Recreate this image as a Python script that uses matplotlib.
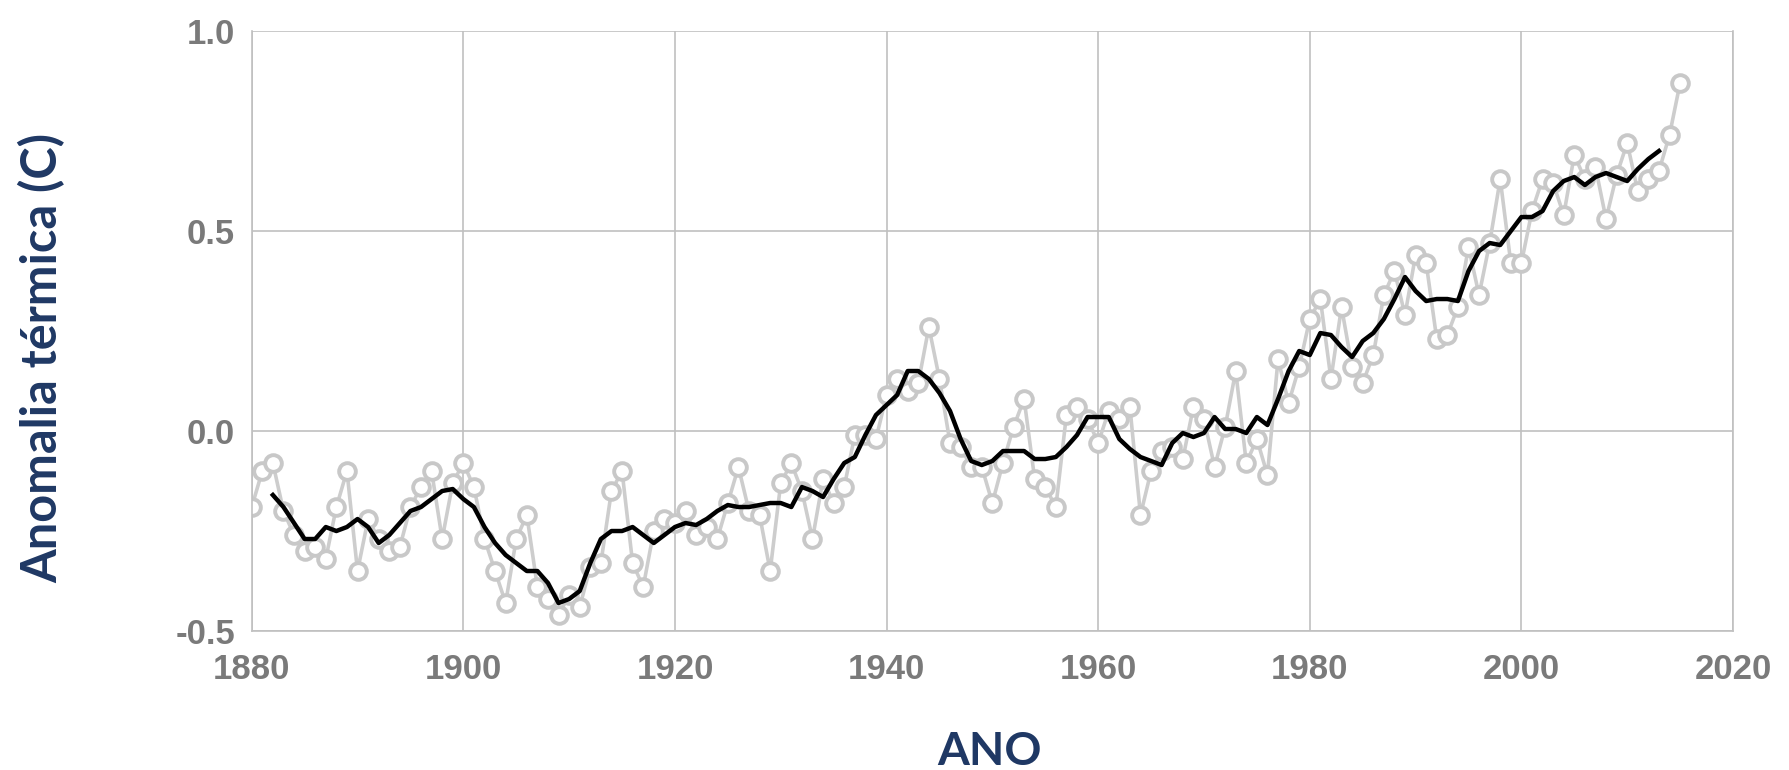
import numpy as np
import matplotlib
matplotlib.use("Agg")
import matplotlib.pyplot as plt

# annual anomalies 1880-2015
years = np.arange(1880, 2016)
annual = [
    -0.19, -0.10, -0.08, -0.20, -0.26, -0.30, -0.29, -0.32, -0.19, -0.10,
    -0.35, -0.22, -0.27, -0.30, -0.29, -0.19, -0.14, -0.10, -0.27, -0.13,
    -0.08, -0.14, -0.27, -0.35, -0.43, -0.27, -0.21, -0.39, -0.42, -0.46,
    -0.41, -0.44, -0.34, -0.33, -0.15, -0.10, -0.33, -0.39, -0.25, -0.22,
    -0.23, -0.20, -0.26, -0.24, -0.27, -0.18, -0.09, -0.20, -0.21, -0.35,
    -0.13, -0.08, -0.15, -0.27, -0.12, -0.18, -0.14, -0.01, -0.01, -0.02,
    0.09, 0.13, 0.10, 0.12, 0.26, 0.13, -0.03, -0.04, -0.09, -0.09,
    -0.18, -0.08, 0.01, 0.08, -0.12, -0.14, -0.19, 0.04, 0.06, 0.03,
    -0.03, 0.05, 0.03, 0.06, -0.21, -0.10, -0.05, -0.04, -0.07, 0.06,
    0.03, -0.09, 0.01, 0.15, -0.08, -0.02, -0.11, 0.18, 0.07, 0.16,
    0.28, 0.33, 0.13, 0.31, 0.16, 0.12, 0.19, 0.34, 0.40, 0.29,
    0.44, 0.42, 0.23, 0.24, 0.31, 0.46, 0.34, 0.47, 0.63, 0.42,
    0.42, 0.55, 0.63, 0.62, 0.54, 0.69, 0.63, 0.66, 0.53, 0.64,
    0.72, 0.60, 0.63, 0.65, 0.74, 0.87,
]

# 5-year running mean 1882-2013
mean_years = np.arange(1882, 2014)
running_mean = [
    -0.16, -0.19, -0.23, -0.27, -0.27, -0.24, -0.25, -0.24, -0.22, -0.24,
    -0.28, -0.26, -0.23, -0.20, -0.19, -0.17, -0.15, -0.145, -0.17, -0.19,
    -0.24, -0.28, -0.31, -0.33, -0.35, -0.35, -0.38, -0.43, -0.42, -0.40,
    -0.33, -0.27, -0.25, -0.25, -0.24, -0.26, -0.28, -0.26, -0.24, -0.23,
    -0.235, -0.22, -0.20, -0.185, -0.19, -0.19, -0.185, -0.18, -0.18, -0.19,
    -0.14, -0.15, -0.165, -0.12, -0.08, -0.065, -0.01, 0.04, 0.065, 0.09,
    0.15, 0.15, 0.13, 0.095, 0.05, -0.02, -0.075, -0.085, -0.075, -0.05,
    -0.05, -0.05, -0.07, -0.07, -0.065, -0.04, -0.01, 0.035, 0.035, 0.035,
    -0.02, -0.045, -0.065, -0.075, -0.085, -0.03, -0.005, -0.015, -0.005, 0.035,
    0.005, 0.005, -0.005, 0.035, 0.015, 0.08, 0.15, 0.20, 0.19, 0.245,
    0.24, 0.21, 0.185, 0.225, 0.245, 0.28, 0.33, 0.385, 0.35, 0.325,
    0.33, 0.33, 0.325, 0.40, 0.45, 0.47, 0.465, 0.50, 0.535, 0.535,
    0.55, 0.60, 0.625, 0.635, 0.615, 0.635, 0.645, 0.635, 0.625, 0.655,
    0.68, 0.70,
]

x_ticks = [1880, 1900, 1920, 1940, 1960, 1980, 2000, 2020]
y_ticks = [-0.5, 0.0, 0.5, 1.0]

fig = plt.figure(figsize=(17.89, 7.70), dpi=100)
ax = fig.add_axes([0.1407, 0.1805, 0.8280, 0.7792])

ax.plot(years, annual, color="#cdcdcd", lw=2.6, marker="o", ms=12,
        mfc="white", mec="#c8c8c8", mew=2.8, zorder=2)
ax.plot(mean_years, running_mean, color="black", lw=3.2, zorder=3)

ax.set_xlim(1880, 2020)
ax.set_ylim(-0.5, 1.0)
ax.set_xticks(x_ticks)
ax.set_yticks(y_ticks)
ax.set_yticklabels([f"{v:.1f}" for v in y_ticks])
ax.grid(True, color="#c0c0c0", lw=1.2, zorder=0)
for s in ax.spines.values():
    s.set_color("#c0c0c0")
    s.set_linewidth(1.2)
ax.spines["top"].set_visible(False)
ax.tick_params(length=0, labelsize=25, labelcolor="#7a7a7a")
ax.tick_params(axis="x", pad=16)
ax.tick_params(axis="y", pad=12)
for lab in ax.get_xticklabels() + ax.get_yticklabels():
    lab.set_fontfamily("Liberation Sans")
    lab.set_fontweight("bold")

fig.text(0.0235, 0.535, "Anomalia térmica (C)", rotation=90, ha="center",
         va="center", fontsize=35, fontweight="bold", color="#1f3864",
         family="Lato")
fig.text(0.553, 0.006, "ANO", ha="center", va="baseline", fontsize=33,
         fontweight="bold", color="#1f3864", family="Lato")

fig.savefig("out.png", dpi=100, facecolor="white")
